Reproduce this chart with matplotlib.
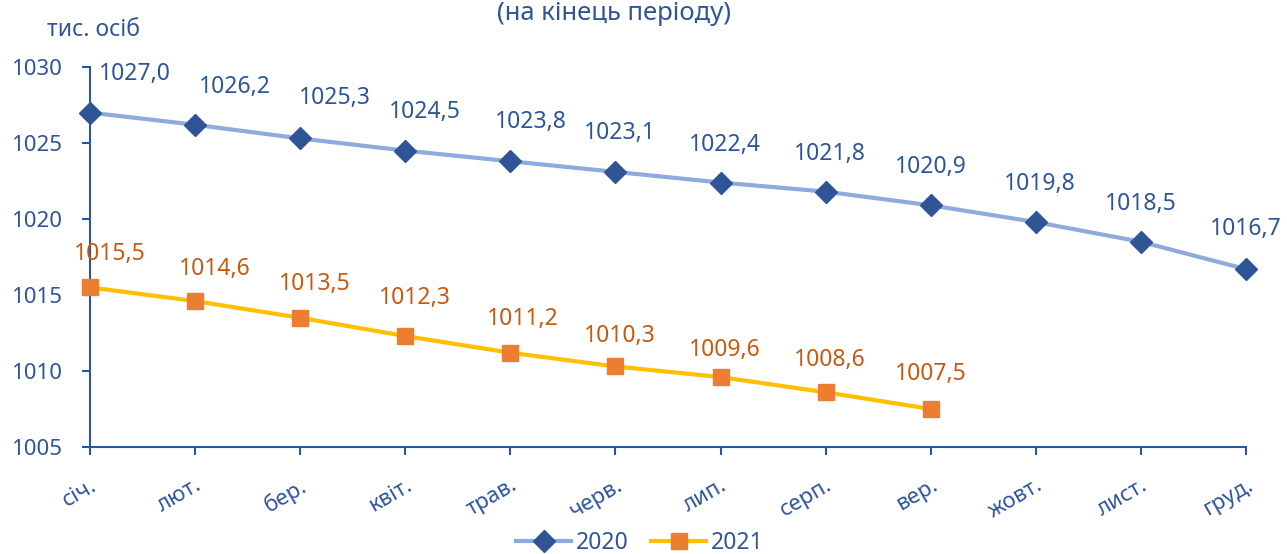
import numpy as np
import matplotlib.pyplot as plt
from matplotlib.transforms import ScaledTranslation

plt.rcParams['font.family'] = ['Noto Sans', 'DejaVu Sans']

months = ["січ.", "лют.", "бер.", "квіт.", "трав.", "черв.", "лип.",
          "серп.", "вер.", "жовт.", "лист.", "груд."]
y2020 = [1027.0, 1026.2, 1025.3, 1024.5, 1023.8, 1023.1, 1022.4,
         1021.8, 1020.9, 1019.8, 1018.5, 1016.7]
y2021 = [1015.5, 1014.6, 1013.5, 1012.3, 1011.2, 1010.3, 1009.6,
         1008.6, 1007.5]

# label offsets in pixels (dx, dy)
off2020 = [(45, 39), (40, 38), (35, 40), (20, 39), (20, 39), (4, 39),
           (4, 38), (4, 38), (0, 38), (4, 38), (0, 38), (0, 40)]
off2021 = [(20, 33), (20, 32), (15, 34), (10, 38), (12, 34), (4, 30),
           (4, 27), (4, 32), (0, 35)]

blue_txt = "#2F5597"
orange_txt = "#C55A11"

fig = plt.figure(figsize=(12.87, 5.54), dpi=100)
ax = fig.add_axes([90 / 1287, 107 / 554, 1156 / 1287, 380 / 554])

x1 = np.arange(len(y2020))
x2 = np.arange(len(y2021))
ax.plot(x1, y2020, color="#8FAADC", lw=3, marker="D", ms=11,
        mfc="#2F5597", mec="#2F5597", label="2020", clip_on=False, zorder=3)
ax.plot(x2, y2021, color="#FFC000", lw=3, marker="s", ms=12,
        mfc="#ED7D31", mec="#ED7D31", label="2021", clip_on=False, zorder=3)

for xi, yi, (dx, dy) in zip(x1, y2020, off2020):
    ax.annotate(f"{yi:.1f}".replace(".", ","), (xi, yi), xytext=(dx * 0.72, dy * 0.72),
                textcoords="offset points", ha="center", va="center",
                fontsize=16.5, color=blue_txt)
for xi, yi, (dx, dy) in zip(x2, y2021, off2021):
    ax.annotate(f"{yi:.1f}".replace(".", ","), (xi, yi), xytext=(dx * 0.72, dy * 0.72),
                textcoords="offset points", ha="center", va="center",
                fontsize=16.5, color=orange_txt)

ax.set_xlim(0, len(months) - 1)
ax.set_ylim(1005, 1030)
ax.set_yticks(np.arange(1005, 1031, 5))
ax.set_xticks(x1)
ax.set_xticklabels(months, rotation=30, ha="right", rotation_mode="anchor")
shift = ScaledTranslation(-6 / 100, 0, fig.dpi_scale_trans)
for lab in ax.get_xticklabels():
    lab.set_transform(lab.get_transform() + shift)

for s in ["top", "right"]:
    ax.spines[s].set_visible(False)
for s in ["left", "bottom"]:
    ax.spines[s].set_color(blue_txt)
    ax.spines[s].set_linewidth(1.5)
ax.tick_params(axis="both", colors=blue_txt, labelsize=16, width=1.5,
               length=6, direction="out")
ax.tick_params(axis="x", pad=14)
ax.tick_params(axis="y", pad=14)

fig.text(47 / 1287, 1 - 30 / 554, "тис. осіб", fontsize=16.5, color=blue_txt,
         ha="left", va="center")
fig.text(614 / 1287, 1 - 14 / 554, "(на кінець періоду)", fontsize=18.5,
         color=blue_txt, ha="center", va="center")

leg = fig.legend(loc="center", bbox_to_anchor=(640 / 1287, 1 - 543 / 554),
                 ncol=2, frameon=False, fontsize=16.5, handlelength=2.4,
                 columnspacing=1.0, handletextpad=0.2)
for t in leg.get_texts():
    t.set_color(blue_txt)

fig.savefig("out.png", dpi=100)
